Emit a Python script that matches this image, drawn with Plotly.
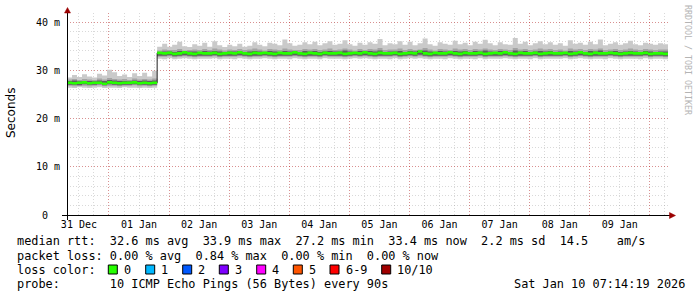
import plotly.graph_objects as go
import pandas as pd

# ---------------- data ----------------
START = "2025-12-31 07:14:19"
END = "2026-01-10 07:14:19"

# smoke envelope (values in ms, axis shows "m" = milli-seconds), 2h steps
rtt_max = [
    28.5, 29.0, 28.6, 29.2, 28.7, 28.5, 29.3, 28.9, 30.1, 29.6, 28.8, 29.1, 28.6, 29.4, 28.8, 29.5, 28.7, 29.9,
    34.9, 35.5, 34.9, 35.3, 35.9, 35.0, 34.8, 35.4, 35.1, 35.7,
    34.9, 36.0, 35.2, 34.8, 35.3, 35.0, 35.5, 34.9, 35.1, 35.8,
    35.3, 35.0, 35.7, 35.5, 35.2, 36.4, 35.6, 35.1, 35.3, 35.8,
    35.4, 35.9, 35.2, 35.6, 36.0, 35.3, 35.5, 36.2, 35.4, 35.1,
    35.7, 35.3, 35.8, 35.5, 36.5, 35.2, 35.6, 35.4, 36.0, 35.3,
    35.9, 35.2, 35.6, 36.6, 35.4, 35.1, 35.8, 35.5, 35.3, 36.1,
    35.4, 35.7, 35.2, 35.9, 35.5, 36.3, 35.6, 35.2, 35.8, 35.4,
    35.3, 36.7, 35.5, 35.9, 35.2, 35.6, 36.0, 35.4, 35.8, 35.3,
    35.6, 35.1, 36.2, 35.5, 35.7, 35.3, 35.9, 35.4, 36.4, 35.2,
    35.5, 35.8, 35.3, 35.6, 36.1, 35.4, 35.2, 35.7, 35.5, 35.3,
    35.6, 35.4,
]
rtt_p9 = [
    28.1, 28.2, 28.0, 28.2, 28.1, 28.0, 28.3, 28.1, 28.4, 28.2, 28.1, 28.2, 28.0, 28.3, 28.1, 28.2, 28.1, 28.3,
    34.1, 34.3, 34.2, 34.2, 34.4, 34.1, 34.2, 34.3, 34.2, 34.4,
    34.2, 34.5, 34.3, 34.1, 34.3, 34.2, 34.4, 34.2, 34.3, 34.5,
    34.3, 34.1, 34.4, 34.3, 34.2, 34.5, 34.3, 34.2, 34.2, 34.4,
    34.3, 34.4, 34.2, 34.3, 34.5, 34.2, 34.3, 34.5, 34.3, 34.1,
    34.4, 34.2, 34.4, 34.3, 34.6, 34.2, 34.3, 34.3, 34.5, 34.2,
    34.4, 34.2, 34.3, 34.6, 34.3, 34.1, 34.4, 34.3, 34.2, 34.5,
    34.3, 34.4, 34.2, 34.4, 34.3, 34.5, 34.3, 34.2, 34.4, 34.3,
    34.2, 34.6, 34.3, 34.4, 34.2, 34.3, 34.5, 34.3, 34.4, 34.2,
    34.3, 34.1, 34.5, 34.3, 34.4, 34.2, 34.4, 34.3, 34.5, 34.2,
    34.3, 34.4, 34.2, 34.3, 34.5, 34.3, 34.2, 34.4, 34.3, 34.2,
    34.3, 34.3,
]
rtt_p8 = [
    27.8, 27.9, 27.7, 27.8, 27.8, 27.7, 27.9, 27.8, 28.0, 27.9, 27.8, 27.8, 27.7, 27.9, 27.8, 27.9, 27.8, 27.9,
    33.8, 33.9, 33.9, 33.8, 34.0, 33.8, 33.9, 33.9, 33.8, 34.0,
    33.9, 34.0, 33.9, 33.8, 33.9, 33.9, 34.0, 33.8, 33.9, 34.0,
    33.9, 33.8, 34.0, 33.9, 33.8, 34.0, 33.9, 33.9, 33.8, 34.0,
    33.9, 34.0, 33.8, 33.9, 34.0, 33.9, 33.9, 34.1, 33.9, 33.8,
    34.0, 33.9, 34.0, 33.9, 34.1, 33.8, 33.9, 33.9, 34.0, 33.8,
    34.0, 33.9, 33.9, 34.1, 33.9, 33.8, 34.0, 33.9, 33.8, 34.0,
    33.9, 34.0, 33.8, 34.0, 33.9, 34.1, 33.9, 33.8, 34.0, 33.9,
    33.8, 34.1, 33.9, 34.0, 33.8, 33.9, 34.0, 33.9, 34.0, 33.8,
    33.9, 33.8, 34.0, 33.9, 34.0, 33.8, 34.0, 33.9, 34.1, 33.8,
    33.9, 34.0, 33.8, 33.9, 34.0, 33.9, 33.8, 34.0, 33.9, 33.8,
    33.9, 33.9,
]
rtt_median = [
    27.4, 27.3, 27.4, 27.5, 27.3, 27.4, 27.4, 27.2, 27.5, 27.4, 27.3, 27.4, 27.4, 27.5, 27.3, 27.4, 27.3, 27.4,
    33.6, 33.5, 33.6, 33.4, 33.5, 33.7, 33.5, 33.4, 33.6, 33.5,
    33.5, 33.6, 33.4, 33.5, 33.6, 33.5, 33.7, 33.5, 33.4, 33.6,
    33.5, 33.6, 33.5, 33.4, 33.6, 33.5, 33.5, 33.7, 33.5, 33.4,
    33.6, 33.5, 33.4, 33.6, 33.5, 33.5, 33.6, 33.4, 33.5, 33.6,
    33.5, 33.7, 33.5, 33.4, 33.6, 33.5, 33.5, 33.6, 33.4, 33.5,
    33.6, 33.5, 33.9, 33.5, 33.4, 33.6, 33.5, 33.5, 33.7, 33.5,
    33.4, 33.6, 33.5, 33.5, 33.6, 33.4, 33.5, 33.6, 33.5, 33.7,
    33.5, 33.4, 33.6, 33.5, 33.5, 33.6, 33.4, 33.5, 33.6, 33.5,
    33.5, 33.6, 33.4, 33.5, 33.7, 33.5, 33.4, 33.6, 33.5, 33.5,
    33.6, 33.5, 33.4, 33.5, 33.6, 33.5, 33.5, 33.6, 33.4, 33.5,
    33.5, 33.4,
]
rtt_p3 = [
    27.0, 27.0, 26.9, 27.1, 27.0, 27.0, 27.1, 26.9, 27.1, 27.0, 26.9, 27.0, 27.0, 27.1, 27.0, 27.0, 26.9, 27.0,
    33.0, 33.0, 33.1, 32.9, 33.0, 33.1, 33.0, 32.9, 33.0, 33.0,
    33.0, 33.1, 32.9, 33.0, 33.0, 33.0, 33.1, 33.0, 32.9, 33.0,
    33.0, 33.1, 33.0, 32.9, 33.0, 33.0, 33.0, 33.1, 33.0, 32.9,
    33.0, 33.0, 32.9, 33.1, 33.0, 33.0, 33.0, 32.9, 33.0, 33.1,
    33.0, 33.1, 33.0, 32.9, 33.0, 33.0, 33.0, 33.1, 32.9, 33.0,
    33.1, 33.0, 33.2, 33.0, 32.9, 33.0, 33.0, 33.0, 33.1, 33.0,
    32.9, 33.0, 33.0, 33.0, 33.1, 32.9, 33.0, 33.0, 33.0, 33.1,
    33.0, 32.9, 33.0, 33.0, 33.0, 33.1, 32.9, 33.0, 33.0, 33.0,
    33.0, 33.1, 32.9, 33.0, 33.1, 33.0, 32.9, 33.0, 33.0, 33.0,
    33.1, 33.0, 32.9, 33.0, 33.0, 33.0, 33.0, 33.1, 32.9, 33.0,
    33.0, 32.9,
]
rtt_p2 = [
    26.8, 26.7, 26.8, 26.8, 26.7, 26.8, 26.9, 26.7, 26.8, 26.8, 26.7, 26.8, 26.8, 26.9, 26.7, 26.8, 26.7, 26.8,
    32.8, 32.8, 32.9, 32.7, 32.8, 32.9, 32.8, 32.7, 32.8, 32.8,
    32.8, 32.9, 32.7, 32.8, 32.8, 32.8, 32.9, 32.8, 32.7, 32.8,
    32.8, 32.9, 32.8, 32.7, 32.8, 32.8, 32.8, 32.9, 32.8, 32.7,
    32.8, 32.8, 32.7, 32.9, 32.8, 32.8, 32.8, 32.7, 32.8, 32.9,
    32.8, 32.9, 32.8, 32.7, 32.8, 32.8, 32.8, 32.9, 32.7, 32.8,
    32.9, 32.8, 32.9, 32.8, 32.7, 32.8, 32.8, 32.8, 32.9, 32.8,
    32.7, 32.8, 32.8, 32.8, 32.9, 32.7, 32.8, 32.8, 32.8, 32.9,
    32.8, 32.7, 32.8, 32.8, 32.8, 32.9, 32.7, 32.8, 32.8, 32.8,
    32.8, 32.9, 32.7, 32.8, 32.9, 32.8, 32.7, 32.8, 32.8, 32.8,
    32.9, 32.8, 32.7, 32.8, 32.8, 32.8, 32.8, 32.9, 32.7, 32.8,
    32.8, 32.7,
]
rtt_min = [
    26.4, 26.3, 26.5, 26.4, 26.3, 26.4, 26.5, 26.3, 26.4, 26.4, 26.3, 26.5, 26.4, 26.4, 26.3, 26.4, 26.3, 26.4,
    32.4, 32.3, 32.5, 32.3, 32.4, 32.5, 32.4, 32.3, 32.4, 32.4,
    32.4, 32.5, 32.3, 32.4, 32.4, 32.3, 32.5, 32.4, 32.3, 32.4,
    32.4, 32.5, 32.4, 32.3, 32.4, 32.4, 32.3, 32.5, 32.4, 32.3,
    32.4, 32.4, 32.3, 32.5, 32.4, 32.4, 32.4, 32.3, 32.4, 32.5,
    32.4, 32.5, 32.4, 32.3, 32.4, 32.4, 32.3, 32.5, 32.3, 32.4,
    32.5, 32.4, 32.5, 32.4, 32.3, 32.4, 32.4, 32.3, 32.5, 32.4,
    32.3, 32.4, 32.4, 32.3, 32.5, 32.3, 32.4, 32.4, 32.4, 32.5,
    32.4, 32.3, 32.4, 32.4, 32.3, 32.5, 32.3, 32.4, 32.4, 32.4,
    32.4, 32.5, 32.3, 32.4, 32.5, 32.4, 32.3, 32.4, 32.4, 32.3,
    32.5, 32.4, 32.3, 32.4, 32.4, 32.4, 32.3, 32.5, 32.3, 32.4,
    32.4, 32.3,
]

day_labels = ["31 Dec", "01 Jan", "02 Jan", "03 Jan", "04 Jan",
              "05 Jan", "06 Jan", "07 Jan", "08 Jan", "09 Jan"]
y_tick_values = [0, 10, 20, 30, 40]
y_tick_labels = ["0&nbsp;&nbsp;", "10 m", "20 m", "30 m", "40 m"]

loss_labels = ["0", "1", "2", "3", "4", "5", "6-9", "10/10"]
loss_colors = ["#26ff00", "#00b8ff", "#0059ff", "#7e00ff",
               "#ff00ff", "#ff5500", "#ff0000", "#a10000"]

legend_rtt = "median rtt:  32.6 ms avg  33.9 ms max  27.2 ms min  33.4 ms now  2.2 ms sd  14.5    am/s"
legend_loss = "packet loss: 0.00 % avg  0.84 % max  0.00 % min  0.00 % now"
legend_probe = "probe:       10 ICMP Echo Pings (56 Bytes) every 90s"
legend_stamp = "Sat Jan 10 07:14:19 2026"

# ---------------- geometry helpers ----------------
W, H = 697, 297
L, R, T, B = 67, 29, 13, 82
PW, PH = W - L - R, H - T - B


def px(x):
    return (x - L) / PW


def py(y):
    return (H - B - y) / PH


times = list(pd.date_range(START, periods=len(rtt_median), freq="2h")) + [pd.Timestamp(END)]


def ext(a):
    return list(a) + [a[-1]]


MONO = "DejaVu Sans Mono"
fig = go.Figure()


def band(lo, hi, color):
    fig.add_trace(go.Scatter(x=times, y=ext(lo), mode="lines", line=dict(width=0, shape="hv"),
                             showlegend=False, hoverinfo="skip"))
    fig.add_trace(go.Scatter(x=times, y=ext(hi), mode="lines", line=dict(width=0, shape="hv"),
                             fill="tonexty", fillcolor=color, showlegend=False, hoverinfo="skip"))


band(rtt_min, rtt_max, "#cacaca")
band(rtt_p2, rtt_p9, "#a4a4a4")
band(rtt_p3, rtt_p8, "#5e5e5e")

# median black line
fig.add_trace(go.Scatter(x=times, y=ext(rtt_median), mode="lines",
                         line=dict(width=1, color="#202020", shape="hv"),
                         showlegend=False, hoverinfo="skip"))
# median in loss colour (band ~1 px either side)
SW = 0.27
band([v - SW for v in rtt_median], [v + SW for v in rtt_median], loss_colors[0])

# dummy trace for label axis
fig.add_trace(go.Scatter(x=[START, END], y=[0, 0], xaxis="x2", mode="lines",
                         line=dict(width=0), opacity=0, showlegend=False, hoverinfo="skip"))

midnights = pd.date_range("2026-01-01", periods=10, freq="D")
noons = pd.date_range("2025-12-31 12:00", periods=len(day_labels), freq="D")

RED_GRID = "rgba(220,0,0,0.33)"
GRAY_GRID = "rgba(128,128,128,0.3)"
DOT = "1px,2px"

fig.update_layout(
    width=W, height=H,
    margin=dict(l=L, r=R, t=T, b=B, pad=0),
    paper_bgcolor="white", plot_bgcolor="white",
    showlegend=False,
    xaxis=dict(type="date", range=[START, END], tickmode="array", tickvals=list(midnights),
               showticklabels=False, ticks="", showgrid=True, gridcolor=RED_GRID,
               griddash=DOT, gridwidth=1, zeroline=False, showline=False,
               minor=dict(tickmode="linear", tick0="2025-12-31 00:00", dtick=6 * 3600 * 1000,
                          showgrid=True, gridcolor=GRAY_GRID, griddash=DOT, gridwidth=1, ticks="")),
    xaxis2=dict(type="date", overlaying="x", anchor="y", side="bottom", range=[START, END],
                tickmode="array", tickvals=list(noons), ticktext=day_labels,
                showgrid=False, zeroline=False, showline=False, ticks="", ticklabelstandoff=2,
                tickfont=dict(family=MONO, size=10, color="black")),
    yaxis=dict(range=[0, 41.87], tickmode="array", tickvals=y_tick_values, ticktext=y_tick_labels,
               showgrid=True, gridcolor=RED_GRID, griddash=DOT, gridwidth=1,
               zeroline=False, showline=False, ticks="", ticklabelstandoff=6,
               tickfont=dict(family=MONO, size=10, color="black"),
               minor=dict(tickmode="linear", tick0=0, dtick=2, showgrid=True,
                          gridcolor=GRAY_GRID, griddash=DOT, gridwidth=1, ticks="")),
)

shapes = []
# axes with arrows
shapes.append(dict(type="line", xref="paper", yref="paper", x0=px(62), x1=px(670),
                   y0=py(215.5), y1=py(215.5), line=dict(color="black", width=1)))
shapes.append(dict(type="line", xref="paper", yref="paper", x0=px(67.5), x1=px(67.5),
                   y0=py(220), y1=py(12), line=dict(color="black", width=1)))
ARROW = "#9b0000"
shapes.append(dict(type="path", xref="paper", yref="paper",
                   path=f"M {px(64.5)} {py(13)} L {px(70.5)} {py(13)} L {px(67.5)} {py(7.5)} Z",
                   fillcolor=ARROW, line=dict(color=ARROW, width=0.5)))
shapes.append(dict(type="path", xref="paper", yref="paper",
                   path=f"M {px(669.5)} {py(212.5)} L {px(669.5)} {py(218.5)} L {px(675.5)} {py(215.5)} Z",
                   fillcolor=ARROW, line=dict(color=ARROW, width=0.5)))

annotations = []


def text(x, y, s, size=11.86, family=MONO, color="black", xanchor="left", angle=0):
    annotations.append(dict(xref="paper", yref="paper", x=px(x), y=py(y), text=s,
                            showarrow=False, xanchor=xanchor, yanchor="middle",
                            textangle=angle, borderpad=0,
                            font=dict(family=family, size=size, color=color)))


text(15.5, 241.5, legend_rtt.replace(" ", "&nbsp;"))
text(15.5, 255.5, legend_loss.replace(" ", "&nbsp;"))
text(15.5, 269.5, "loss&nbsp;color:")
text(15.5, 283.5, legend_probe.replace(" ", "&nbsp;"))
text(512.7, 283.5, legend_stamp.replace(" ", "&nbsp;"))

box_x = [108.3, 145.7, 182.7, 219.3, 256.7, 293.3, 330.0, 381.7]
for bx, lab, col in zip(box_x, loss_labels, loss_colors):
    shapes.append(dict(type="rect", xref="paper", yref="paper",
                       x0=px(bx), x1=px(bx + 9), y0=py(265), y1=py(274),
                       fillcolor=col, line=dict(color="black", width=1)))
    text(bx + 14.5, 269.5, lab)

text(11, 113, "Seconds", size=12, family="DejaVu Sans", xanchor="center", angle=-90)
text(688, 60, "RRDTOOL&nbsp;/&nbsp;TOBI&nbsp;OETIKER", size=8.3, color="#b4b4b4",
     xanchor="center", angle=90)

fig.update_layout(shapes=shapes, annotations=annotations)
fig.write_html("out.html")
